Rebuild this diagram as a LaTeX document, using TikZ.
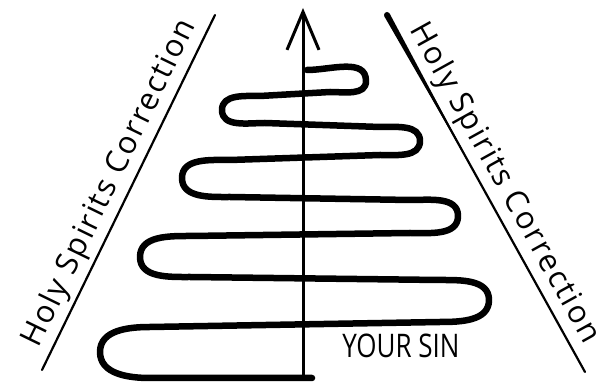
\documentclass[tikz,border=0pt]{standalone}
\usepackage{fontspec}
\setmainfont{Open Sans}
\usetikzlibrary{arrows.meta, calc}

\begin{document}
\begin{tikzpicture}[
  x=1pt, y=1pt,
  rail/.style={line width=2.2pt, line cap=round},
  coil/.style={line width=6.5pt, line cap=round, line join=round},
  hand/.style={font=\fontsize{31}{34}\selectfont\addfontfeatures{LetterSpace=6}, inner sep=4pt},
  sinlabel/.style={font=\fontsize{26}{28}\selectfont}
]
\useasboundingbox (0,0) rectangle (611,388);
\coordinate (ltop) at (215,373);
\coordinate (lbot) at (42,18);
\coordinate (rtop) at (387,373);
\coordinate (rbot) at (585,16);
\coordinate (base) at (303,10);
\coordinate (tip) at (303,380);

\draw[rail] (lbot) -- (ltop) node[hand, midway, sloped, above] (lcorr) {Holy Spirits Correction};
\draw[rail] (rtop) -- (rbot) node[hand, midway, sloped, above] (rcorr) {Holy Spirits Correction};
\fill ($(rtop)+(2.6,1.5)$) -- ($(rtop)!0.45!(rbot)$) -- ($(rtop)+(-2.6,-1.5)$) -- cycle;
\fill (rtop) circle (3pt);

\draw[line width=3pt, -{Straight Barb[length=38pt, width=32pt]}] (base) -- (tip);

\draw[coil] (307,318) to[out=0,in=90] (366,307) to[out=-90,in=0] (330,296) -- (260,292)
  to[out=180,in=90] (222,278) to[out=-90,in=180] (265,265) -- (380,261)
  to[out=0,in=90] (420,247) to[out=-90,in=0] (380,233) -- (230,228)
  to[out=180,in=90] (182,210) to[out=-90,in=180] (230,191) -- (410,188)
  to[out=0,in=90] (458,172) to[out=-90,in=0] (410,155) -- (190,152)
  to[out=180,in=90] (140,131) to[out=-90,in=180] (190,111) -- (440,108)
  to[out=0,in=90] (489,88) to[out=-90,in=0] (440,66) -- (150,61)
  to[out=180,in=90] (100,36) to[out=-90,in=180] (150,10) -- (312,10);

\node[sinlabel] (sin) at (401,42) {\scalebox{1}[1.25]{YOUR SIN}};
\end{tikzpicture}
\end{document}
